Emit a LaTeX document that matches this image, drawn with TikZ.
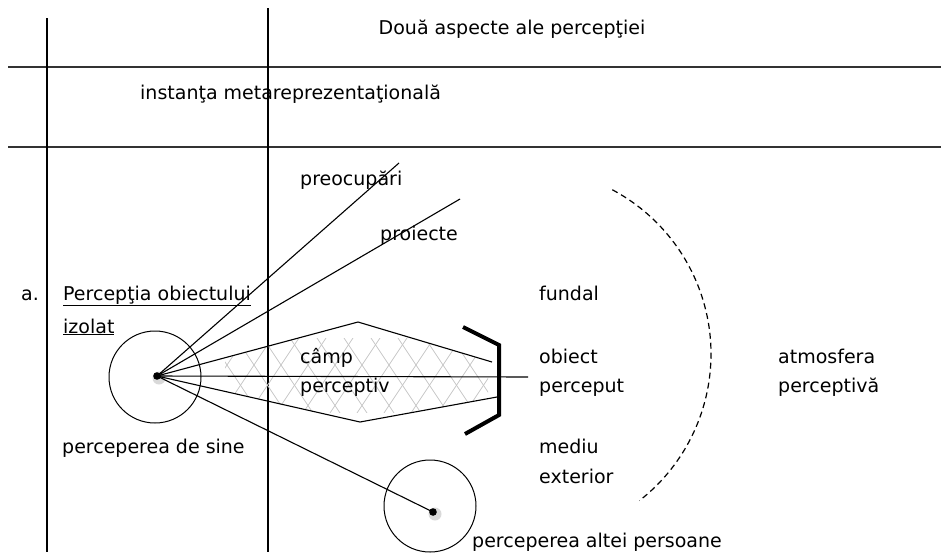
\documentclass[tikz,border=0pt]{standalone}
\usepackage{fontspec}
\setmainfont{DejaVu Sans}
\usepackage{tikz}
\usetikzlibrary{positioning,calc}
\tikzstyle{txt}= [inner sep=0pt, anchor=base west, font=\fontsize{19}{23}\selectfont]
\tikzstyle{rule}= [line width=2.5pt, black!80]
\tikzstyle{ray}= [line width=1.1pt]
\tikzstyle{eye}= [circle, draw, line width=1pt, inner sep=0pt, minimum size=92pt]

\begin{document}
\begin{tikzpicture}[x=1pt,y=-1pt]
				\useasboundingbox (0,0) rectangle (941,552);
				% table
				\draw[rule] (8,67) -- (941,67);
				\draw[rule] (8,147) -- (941,147);
				\draw[line width=1.3pt] (47,18) -- (47,552);
				\draw[line width=1.3pt] (268,8) -- (268,552);
				\node[txt, anchor=base] (title) at (512,34) {Două aspecte ale percepţiei};
				\node[txt] (meta) at (140,99) {instanţa metareprezentaţională};
				
				% eyes
				\node[eye] (self) at (155,377) {};
				\node[eye] (other) at (430,506) {};
				\coordinate (selfdot) at (157,376);
				\coordinate (otherdot) at (433,512);
				\fill[black!15] (159,378) circle (6.5pt);
				\fill (selfdot) circle (3.8pt);
				\fill[black!15] (435,514) circle (6.5pt);
				\fill (otherdot) circle (3.8pt);
				
				% field
				\coordinate (up) at (358,322);
				\coordinate (upend) at (492,362);
				\coordinate (lo) at (360,422);
				\coordinate (loend) at (497,397);
				\coordinate (obj) at (528,377);
				\begin{scope}
					\clip (selfdot) -- (up) -- (upend) -- (loend) -- (lo) -- cycle;
					\clip (225,338) rectangle (488,412);
					\foreach \i in {0,...,12}
					{
						\draw[black!22, line width=0.8pt] (170+27*\i,320) -- ++(70,105);
						\draw[black!22, line width=0.8pt] (230+27*\i,320) -- ++(-70,105);
					}
				\end{scope}
				\coordinate (preo) at (399,163);
				\coordinate (proi) at (460,199);
				\draw[ray] (selfdot) -- (preo);
				\draw[ray] (selfdot) -- (proi);
				\draw[ray] (selfdot) -- (up) -- (upend);
				\draw[ray] (selfdot) -- (lo) -- (loend);
				\draw[ray] (selfdot) -- (obj);
				\draw[ray] (selfdot) -- (otherdot);
				\draw[line width=4pt, miter limit=4] (463,327) -- (499,345) -- (499,415) -- (465,434);
				
				% atmosphere
				\coordinate (atm) at (525,354);
				\draw[dashed, dash pattern=on 6pt off 4pt, line width=1.2pt] (atm) ++(-62:186) arc[start angle=-62, end angle=52, radius=186];
				
				% labels
				\node[txt] (a) at (21,300) {a.};
				\node[txt] (izol1) at (63,300) {\underline{Percepţia obiectului}};
				\node[txt] (izol2) at (63,333) {\underline{izolat}};
				\node[txt] (sine) at (62,453) {perceperea de sine};
				\node[txt] (pre) at (300,185) {preocupări};
				\node[txt] (pro) at (380,240) {proiecte};
				\node[txt] (camp1) at (300,363) {câmp};
				\node[txt] (camp2) at (300,392) {perceptiv};
				\node[txt] (fund) at (539,300) {fundal};
				\node[txt] (obj1) at (539,363) {obiect};
				\node[txt] (obj2) at (539,392) {perceput};
				\node[txt] (med1) at (539,453) {mediu};
				\node[txt] (med2) at (539,483) {exterior};
				\node[txt] (atm1) at (778,363) {atmosfera};
				\node[txt] (atm2) at (778,392) {perceptivă};
				\node[txt] (alta) at (472,547) {perceperea altei persoane};
			\end{tikzpicture}
\end{document}
